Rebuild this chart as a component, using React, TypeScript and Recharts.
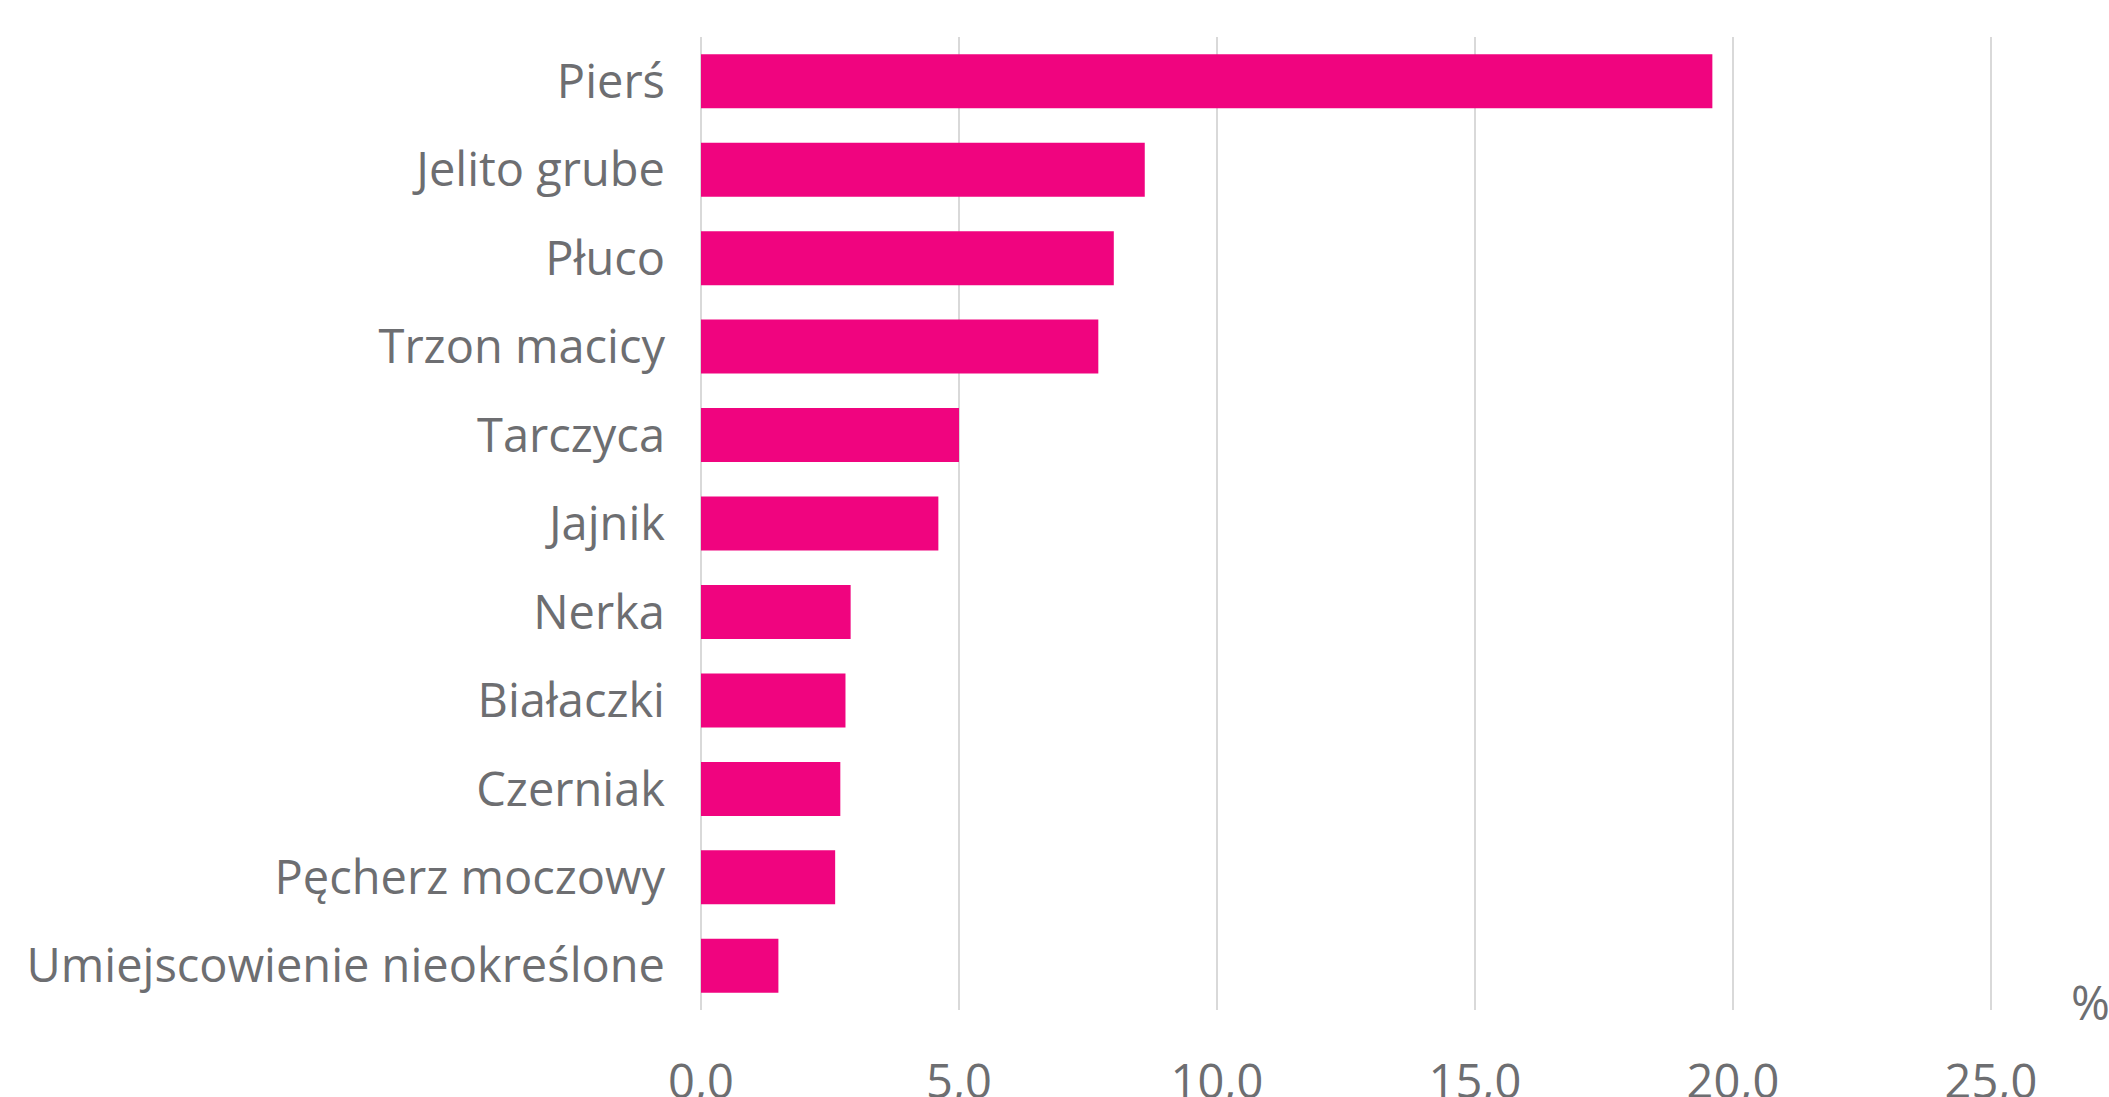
import React from "react"
import { BarChart, Bar, XAxis, YAxis, CartesianGrid } from "recharts"

const categories = [
    "Pierś",
    "Jelito grube",
    "Płuco",
    "Trzon macicy",
    "Tarczyca",
    "Jajnik",
    "Nerka",
    "Białaczki",
    "Czerniak",
    "Pęcherz moczowy",
    "Umiejscowienie nieokreślone",
]
const values = [19.6, 8.6, 8.0, 7.7, 5.0, 4.6, 2.9, 2.8, 2.7, 2.6, 1.5]
const xTicks = [0, 5, 10, 15, 20, 25]

const TEXT = "#6d6e71"
const FONT = "'Open Sans', sans-serif"

const chartData = categories.map((name, i) => ({ name, value: values[i] }))

export default function App() {
    return (
        <div style={{ position: "absolute", left: 0, top: 0, fontFamily: FONT }}>
            <BarChart
                width={2109}
                height={1097}
                layout="vertical"
                data={chartData}
                barCategoryGap="19.5%"
                margin={{ top: 37, right: 118, left: 0, bottom: 0 }}
            >
                <CartesianGrid horizontal={false} stroke="#d9d9d9" strokeWidth={2} />
                <XAxis
                    type="number"
                    domain={[0, 25]}
                    ticks={xTicks}
                    height={87}
                    axisLine={false}
                    tickLine={false}
                    tickMargin={49}
                    tick={{ fontSize: 47, fill: TEXT, fontFamily: FONT }}
                    tickFormatter={(v: number) => v.toFixed(1).replace(".", ",")}
                    label={{ value: "%", position: "right", offset: 80, dy: -50, fontSize: 47, fill: TEXT, fontFamily: FONT }}
                />
                <YAxis
                    type="category"
                    dataKey="name"
                    width={701}
                    axisLine={false}
                    tickLine={false}
                    tickMargin={30}
                    interval={0}
                    tick={{ fontSize: 47, fill: TEXT, fontFamily: FONT }}
                />
                <Bar dataKey="value" fill="#f0047f" isAnimationActive={false} />
            </BarChart>
        </div>
    )
}
